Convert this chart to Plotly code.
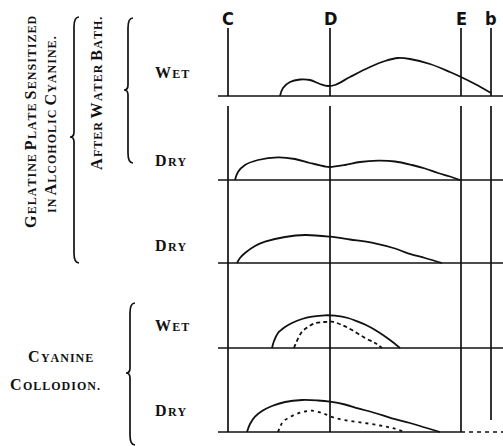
import plotly.graph_objects as go

# ---------------- data ----------------
line_names = ["C", "D", "E", "b"]
line_pos = [228, 330, 461, 491]          # position along spectrum scale

panel_labels = ["Wet", "Dry", "Dry", "Wet", "Dry"]
panel_base = [96, 180, 263, 348, 432]    # baseline of each strip (scale units, downward)

# Gelatine plate, after water bath, wet
p1_x = [280, 283, 290, 300, 310, 320, 328, 335, 350, 370, 385, 398, 410, 430, 450, 461, 475, 491]
p1_h = [0, 8, 14, 16.5, 16, 12, 10, 11, 19, 29, 35, 38, 37, 32, 24, 19, 12, 3]
# after water bath, dry
p2_x = [235, 238, 245, 258, 278, 295, 310, 325, 330, 345, 360, 378, 395, 412, 425, 438, 450, 460]
p2_h = [0, 8, 15, 20, 22.7, 21, 17, 13.5, 13, 15, 18, 19.3, 18.5, 15, 11.5, 7, 3.5, 0]
# gelatine plate dry
p3_x = [237, 240, 245, 255, 265, 285, 305, 330, 350, 375, 395, 408, 425, 442]
p3_h = [0, 5, 10, 17, 21.3, 26, 28, 26.3, 23.5, 19.7, 14.5, 9.7, 5, 0]
# cyanine collodion wet (solid and dashed)
p4_x = [272, 274, 278, 285, 292, 302, 312, 325, 335, 348, 358, 368, 378, 390, 400]
p4_h = [0, 7, 15, 21, 25, 29, 31.3, 32.7, 32.3, 30, 26.3, 22, 16.3, 8, 0]
p4d_x = [294, 296, 302, 308, 315, 325, 332, 342, 352, 365, 375, 382]
p4d_h = [0, 5, 16.3, 21, 24.7, 26, 26.3, 23, 18, 10, 5, 0]
# cyanine collodion dry (solid and dashed)
p5_x = [247, 250, 255, 262, 272, 285, 302, 318, 330, 345, 358, 375, 392, 410, 425, 440]
p5_h = [0, 8, 15.3, 21, 26, 30, 32, 31.5, 30.3, 27.5, 23.7, 19, 13.7, 9, 4.5, 0]
p5d_x = [278, 280, 283, 290, 298, 305, 312, 322, 335, 350, 365, 380, 392, 405]
p5d_h = [0, 5, 10.3, 15, 18.7, 20.5, 21.3, 19, 14, 11, 9, 6.5, 4, 0]

curves = [
    (p1_x, p1_h, 0, "solid"),
    (p2_x, p2_h, 1, "solid"),
    (p3_x, p3_h, 2, "solid"),
    (p4_x, p4_h, 3, "solid"),
    (p4d_x, p4d_h, 3, "4px,3px"),
    (p5_x, p5_h, 4, "solid"),
    (p5d_x, p5d_h, 4, "3px,4px"),
]

W, H = 503, 446
SERIF = "Liberation Serif, Times New Roman, serif"
NARROW = "Liberation Sans Narrow, DejaVu Sans Condensed, Arial Narrow, sans-serif"
INK = "#111111"
HAIR = "\u200a"


def small_caps(text, big=16, small=12, lower_words=()):
    out = []
    for word in text.split(" "):
        up = word.upper()
        if word in lower_words:
            out.append('<span style="font-size:%dpx">%s</span>' % (small, HAIR.join(up)))
        else:
            out.append('%s%s<span style="font-size:%dpx">%s</span>'
                       % (up[0], HAIR, small, HAIR.join(up[1:])))
    return "<b>" + " ".join(out) + "</b>"


fig = go.Figure()

# baselines (the last one turns dashed past line E)
for i, b in enumerate(panel_base):
    end = line_pos[2] if i == len(panel_base) - 1 else W
    fig.add_trace(go.Scatter(x=[218, end], y=[b, b], mode="lines",
                             line=dict(color=INK, width=1.7), hoverinfo="skip"))
fig.add_trace(go.Scatter(x=[line_pos[2], W], y=[panel_base[-1], panel_base[-1]], mode="lines",
                         line=dict(color=INK, width=1.5, dash="4px,4px"), hoverinfo="skip"))

# spectral lines (vertical), with the small break below the first strip
top = 28
gap_end = 106
for name, xp in zip(line_names, line_pos):
    bottom = panel_base[-1] if name != "b" else 420
    fig.add_trace(go.Scatter(x=[xp, xp, None, xp, xp],
                             y=[top, panel_base[0], None, gap_end, bottom],
                             mode="lines", line=dict(color=INK, width=1.7), hoverinfo="skip"))

# curves
for xs, hs, idx, dash in curves:
    ys = [panel_base[idx] - h for h in hs]
    fig.add_trace(go.Scatter(x=xs, y=ys, mode="lines", line_shape="spline",
                             line=dict(color=INK, width=1.8, dash=dash), hoverinfo="skip"))

# line letters
for name, xp in zip(line_names, line_pos):
    fig.add_annotation(x=xp, y=18, text="<b>%s</b>" % name, showarrow=False,
                       font=dict(family=NARROW, size=18, color=INK),
                       xanchor="center", yanchor="middle")

# strip labels
label_y = [72, 160, 245, 325, 410]
for lab, yy in zip(panel_labels, label_y):
    fig.add_annotation(x=153, y=yy, text=small_caps(lab), showarrow=False,
                       font=dict(family=SERIF, size=16, color=INK),
                       xanchor="left", yanchor="middle")

# rotated group titles
fig.add_annotation(x=30, y=122, text=small_caps("Gelatine Plate Sensitized"),
                   textangle=-90, showarrow=False, font=dict(family=SERIF, size=16, color=INK),
                   xanchor="center", yanchor="middle")
fig.add_annotation(x=50, y=125, text=small_caps("in Alcoholic Cyanine.", lower_words=("in",)),
                   textangle=-90, showarrow=False, font=dict(family=SERIF, size=16, color=INK),
                   xanchor="center", yanchor="middle")
fig.add_annotation(x=96, y=94, text=small_caps("After Water Bath."),
                   textangle=-90, showarrow=False, font=dict(family=SERIF, size=16, color=INK),
                   xanchor="center", yanchor="middle")
fig.add_annotation(x=60, y=356, text=small_caps("Cyanine"), showarrow=False,
                   font=dict(family=SERIF, size=16, color=INK), xanchor="center", yanchor="middle")
fig.add_annotation(x=55, y=384, text=small_caps("Collodion."), showarrow=False,
                   font=dict(family=SERIF, size=16, color=INK), xanchor="center", yanchor="middle")


def brace(x, y0, y1, ym, w=5, c=4):
    r = 10
    return ("M %g,%g Q %g,%g %g,%g L %g,%g Q %g,%g %g,%g Q %g,%g %g,%g L %g,%g Q %g,%g %g,%g"
            % (x + w, y0, x, y0, x, y0 + r,
               x, ym - r * 0.5, x, ym, x - c, ym,
               x, ym, x, ym + r * 0.5,
               x, y1 - r, x, y1, x + w, y1))


for bx, by0, by1, bym in [(74, 17, 263, 137), (128, 18, 163, 90), (130, 303, 445, 373)]:
    fig.add_shape(type="path", path=brace(bx, by0, by1, bym), xref="x", yref="y",
                  line=dict(color=INK, width=1.7))

fig.update_layout(
    width=W, height=H, margin=dict(l=0, r=0, t=0, b=0),
    paper_bgcolor="white", plot_bgcolor="white", showlegend=False,
    xaxis=dict(range=[0, W], visible=False, fixedrange=True),
    yaxis=dict(range=[H, 0], visible=False, fixedrange=True),
)

fig.write_html("out.html", config={"displayModeBar": False},
               post_script="document.body.style.margin='0';document.body.style.overflow='hidden';")
